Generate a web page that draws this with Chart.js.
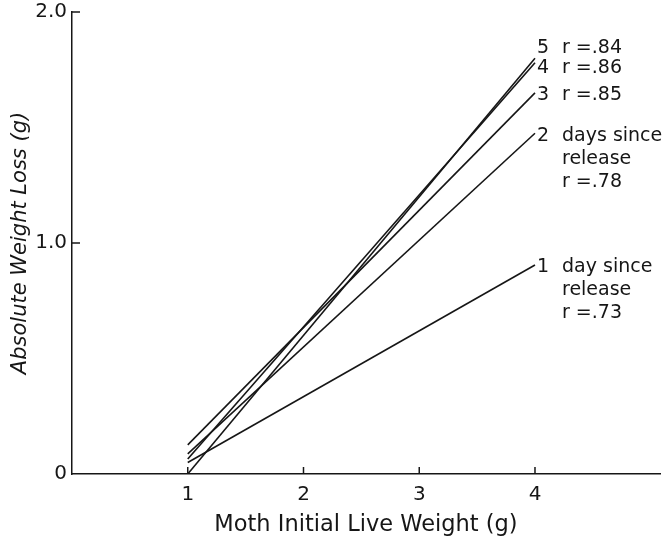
<!DOCTYPE html>
<html>
<head>
<meta charset="utf-8">
<script src="https://cdn.jsdelivr.net/npm/chart.js@4.4.1/dist/chart.umd.min.js"></script>
<style>
  html, body { margin: 0; padding: 0; background: #fff; }
  #wrap { width: 663px; height: 539px; }
</style>
</head>
<body>
<div id="wrap"><canvas id="chart"></canvas></div>
<script>
// ── Data ──────────────────────────────────────────
const xValues = [1, 4];               // moth initial live weight (g), line ends
const day1 = [0.05, 0.905];
const day2 = [0.087, 1.475];
const day3 = [0.126, 1.65];
const day4 = [0.065, 1.78];
const day5 = [0.0, 1.80];
const seriesNums = ['1', '2', '3', '4', '5'];
const seriesNotes = [
  ['day since', 'release', 'r =.73'],
  ['days since', 'release', 'r =.78'],
  ['r =.85'],
  ['r =.86'],
  ['r =.84']
];
const xTicks = [1, 2, 3, 4];
const yTicks = [0, 1, 2];

const FONT = "'DejaVu Sans', 'Noto Sans', sans-serif";
const INK = '#161616';
const labelShift = [2, 3, 2, 5, -10];   // vertical nudge for end labels

// ── Plugins ───────────────────────────────────────
const decor = {
  id: 'decor',
  afterDraw(chart) {
    const { ctx, scales: { x, y } } = chart;
    ctx.save();
    ctx.strokeStyle = INK;
    ctx.lineWidth = 1.5;
    // inward tick marks
    xTicks.forEach(v => {
      const px = x.getPixelForValue(v);
      ctx.beginPath();
      ctx.moveTo(px, y.bottom);
      ctx.lineTo(px, y.bottom - 7);
      ctx.stroke();
    });
    yTicks.filter(v => v > 0).forEach(v => {
      const py = y.getPixelForValue(v);
      ctx.beginPath();
      ctx.moveTo(x.left, py);
      ctx.lineTo(x.left + 8, py);
      ctx.stroke();
    });

    // labels at line ends
    ctx.fillStyle = INK;
    ctx.font = '19px ' + FONT;
    ctx.textBaseline = 'middle';
    ctx.textAlign = 'left';
    chart.data.datasets.forEach((ds, i) => {
      const meta = chart.getDatasetMeta(i);
      const last = meta.data[meta.data.length - 1];
      const bx = last.x + 2;
      const by = last.y + labelShift[i];
      ctx.fillText(seriesNums[i], bx, by);
      seriesNotes[i].forEach((t, j) => {
        ctx.fillText(t, bx + 25, by + j * 23);
      });
    });
    ctx.restore();
  }
};

// ── Chart ─────────────────────────────────────────
const mk = vals => ({
  data: xValues.map((v, i) => ({ x: v, y: vals[i] })),
  borderColor: INK,
  borderWidth: 1.6,
  pointRadius: 0,
  fill: false,
  tension: 0
});

new Chart(document.getElementById('chart'), {
  type: 'line',
  data: { datasets: [mk(day1), mk(day2), mk(day3), mk(day4), mk(day5)] },
  options: {
    responsive: true,
    maintainAspectRatio: false,
    animation: false,
    layout: { padding: { top: 12, right: 3, left: 0, bottom: 0 } },
    plugins: { legend: { display: false }, tooltip: { enabled: false } },
    scales: {
      x: {
        type: 'linear',
        min: 0,
        max: 5.08,
        afterBuildTicks: s => { s.ticks = xTicks.map(v => ({ value: v })); },
        afterFit: s => { s.height = 65; s.paddingLeft = 0; s.paddingRight = 0; },
        grid: { display: false, drawTicks: false },
        border: { display: true, color: INK, width: 1.5 },
        title: {
          display: true,
          text: 'Moth Initial Live Weight (g)',
          color: INK,
          font: { family: FONT, size: 22.5 },
          padding: { top: 0, bottom: 0 }
        },
        ticks: {
          color: INK, padding: 9, maxRotation: 0,
          font: { family: FONT, size: 20 },
          callback: v => String(v)
        }
      },
      y: {
        type: 'linear',
        min: 0,
        max: 2,
        afterBuildTicks: s => { s.ticks = yTicks.map(v => ({ value: v })); },
        afterFit: s => { s.width = 72; s.paddingTop = 0; s.paddingBottom = 0; },
        grid: { display: false, drawTicks: false },
        border: { display: true, color: INK, width: 1.5 },
        title: {
          display: true,
          text: 'Absolute Weight Loss (g)',
          color: INK,
          font: { family: FONT, size: 21, style: 'italic' },
          padding: { top: 8, bottom: 8 }
        },
        ticks: {
          color: INK, padding: 5,
          font: { family: FONT, size: 20 },
          callback: v => (v === 0 ? '0' : v.toFixed(1))
        }
      }
    }
  },
  plugins: [decor]
});
</script>
</body>
</html>
